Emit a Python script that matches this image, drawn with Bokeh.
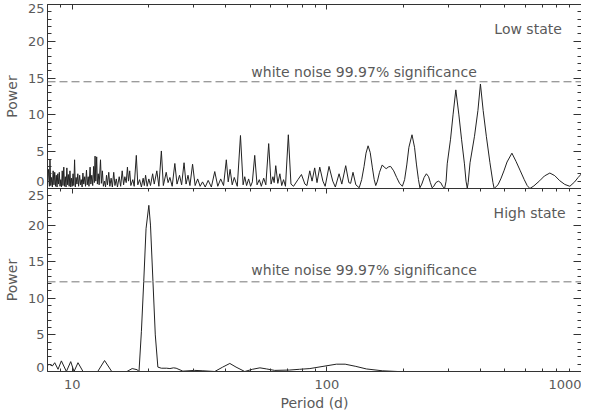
from bokeh.plotting import figure
from bokeh.models import (LogAxis, LinearAxis, FixedTicker, Range1d, Span, Label,
                          PrintfTickFormatter)
from bokeh.layouts import column
from bokeh.embed import file_html
from bokeh.resources import INLINE

# ---------------- data ----------------
low_period = [
    8.00, 8.08, 8.14, 8.18, 8.24, 8.30, 8.36, 8.42, 8.48, 8.54, 8.60, 8.66, 8.72, 8.78, 8.84,
    8.90, 8.96, 9.02, 9.08, 9.14, 9.20, 9.27, 9.33, 9.40, 9.46, 9.53, 9.60, 9.66, 9.73, 9.80,
    9.87, 9.94, 10.01, 10.08, 10.15, 10.22, 10.29, 10.36, 10.44, 10.52, 10.60, 10.70, 10.78,
    10.86, 10.94, 11.02, 11.10, 11.20, 11.28, 11.38, 11.46, 11.56, 11.64, 11.76, 11.84, 11.94,
    12.04, 12.14, 12.22, 12.30, 12.38, 12.48, 12.56, 12.66, 12.76, 12.92, 13.02, 13.14, 13.26,
    13.40, 13.52, 13.64, 13.76, 13.92, 14.06, 14.22, 14.38, 14.56, 14.72, 14.90, 15.06, 15.30,
    15.50, 15.72, 15.92, 16.10, 16.30, 16.48, 16.64, 16.82, 17.00, 17.30, 17.52, 17.86, 18.10,
    18.40, 18.70, 19.00, 19.20, 19.42, 19.70, 20.00, 20.30, 20.70, 21.00, 21.50, 21.90, 22.40,
    22.80, 23.40, 23.80, 24.20, 24.70, 25.30, 25.80, 26.40, 26.90, 27.50, 28.00, 28.50, 29.00,
    29.70, 30.40, 31.10, 31.80, 32.50, 33.30, 34.20, 35.20, 36.30, 37.30, 38.30, 39.30, 40.30,
    41.00, 41.70, 42.50, 43.30, 44.50, 45.80, 46.90, 47.60, 48.40, 49.30, 50.20, 51.00, 52.10,
    53.20, 54.30, 55.30, 56.50, 57.60, 59.10, 60.40, 61.40, 62.10, 63.00, 64.20, 65.40, 66.50,
    67.60, 68.80, 70.60, 72.30, 74.00, 77.00, 79.50, 82.00, 83.50, 85.70, 87.50, 89.60, 91.50,
    93.80, 96.50, 98.50, 102.0, 105.5, 108.0, 111.7, 114.5, 118.6, 122.0, 124.0, 126.7, 130.0,
    134.0, 137.0, 140.0, 142.5, 145.2, 148.0, 151.0, 153.5, 155.6, 158.0, 161.0, 165.0, 168.0,
    171.0, 175.0, 178.0, 183.0, 188.0, 193.0, 198.0, 202.0, 206.0, 210.0, 216.0, 221.0, 225.0,
    229.0, 232.0, 236.0, 241.0, 246.0, 251.0, 255.0, 259.0, 263.0, 268.0, 274.0, 280.0, 285.0,
    290.0, 294.0, 297.0, 306.0, 313.0, 321.0, 330.0, 338.0, 347.0, 352.0, 356.0, 359.0, 365.0,
    380.0, 392.0, 401.0, 411.0, 423.0, 437.0, 449.0, 454.0, 470.0, 482.0, 496.0, 510.0, 533.0,
    553.0, 575.0, 596.0, 612.0, 627.0, 650.0, 685.0, 715.0, 751.0, 785.0, 822.0, 860.0, 900.0,
    940.0, 970.0, 1000.0]
low_power = [
    0.5, 2.6, 0.3, 4.0, 0.4, 1.5, 0.2, 2.4, 0.5, 2.2, 0.3, 1.8, 0.2, 2.0, 0.6,
    2.2, 0.3, 1.2, 0.2, 2.4, 0.4, 2.9, 0.3, 1.6, 0.2, 2.8, 0.5, 1.9, 0.3, 2.4,
    0.2, 1.4, 0.3, 2.0, 0.4, 3.9, 0.2, 1.5, 0.6, 2.0, 0.3, 1.8, 0.5,
    1.2, 0.2, 2.1, 0.6, 1.6, 0.3, 2.5, 0.5, 1.6, 0.3, 2.9, 0.6, 1.8,
    0.4, 3.0, 0.8, 4.4, 1.0, 4.3, 0.6, 2.0, 0.5, 3.9, 0.7, 2.4, 0.3,
    1.0, 0.2, 1.8, 0.5, 2.2, 0.3, 1.4, 0.2, 2.2, 0.4, 1.3, 0.2, 1.6,
    0.3, 2.4, 0.5, 1.6, 0.8, 2.9, 1.0, 2.4, 0.4, 1.2, 0.3, 4.5, 0.5,
    1.2, 0.2, 1.4, 0.4, 1.8, 0.3, 1.3, 0.4, 2.0, 0.6, 2.4, 0.3, 5.1,
    0.4, 2.2, 0.8, 1.5, 0.3, 3.4, 0.6, 1.8, 0.5, 3.5, 0.6, 1.8, 0.4,
    3.3, 0.4, 1.3, 0.3, 0.9, 0.2, 1.1, 0.2, 2.3, 0.3, 1.3, 0.4, 3.9,
    0.9, 2.6, 0.5, 1.5, 0.3, 7.2, 0.5, 1.6, 0.4, 1.3, 0.3, 0.9, 4.5,
    0.5, 1.2, 0.3, 1.4, 0.5, 6.1, 0.6, 1.6, 0.8, 3.1, 0.7, 2.0, 0.4,
    1.2, 0.3, 7.3, 0.6, 0.3, 1.2, 1.9, 0.6, 0.4, 2.4, 1.0, 2.8, 0.8,
    2.9, 1.0, 0.3, 3.0, 1.0, 0.2, 2.0, 0.6, 3.1, 0.8, 0.7, 2.2, 0.5,
    0.1, 1.2, 3.0, 4.8, 5.8, 4.9, 2.8, 1.2, 0.4, 1.0, 2.2, 3.2, 2.9,
    2.7, 2.95, 3.0, 2.4, 1.5, 0.7, 0.3, 1.2, 3.2, 5.6, 7.3, 5.6, 3.2,
    1.2, 0.1, 0.6, 1.5, 2.0, 1.6, 0.8, 0.1, 0.3, 0.8, 1.0, 0.8, 0.3,
    0.0, 1.0, 3.35, 6.7, 10.0, 13.4, 10.0, 6.7, 3.35, 1.0, 0.05, 0.8, 3.5,
    7.1, 10.6, 14.2, 10.6, 7.1, 3.5, 0.8, 0.0, 0.5, 1.3, 2.4, 3.6, 4.8,
    3.7, 2.4, 1.2, 0.4, 0.0, 0.35, 1.05, 1.7, 2.1, 1.75, 1.05, 0.55, 0.3,
    0.9, 1.5, 2.0]

high_period = [8.00, 8.16, 8.36, 8.54, 8.80, 9.07, 9.49, 9.87, 10.17, 10.54, 11.03, 12.6, 13.4,
               14.3, 16.4, 17.2, 17.97, 18.3, 18.7, 19.1, 19.5, 20.0, 20.3, 20.76, 21.2, 21.7,
               22.4, 23.5, 24.2, 25.0, 25.6, 27.2, 30.3, 32.6, 36.3, 39.0, 41.6, 44.0, 47.6,
               51.0, 54.6, 58.0, 62.4, 71.4, 78.0, 85.8, 96.6, 109.0, 118.0, 130.0, 143.0,
               165.0, 190.0, 300.0, 500.0, 1000.0]
high_power = [0.9, 0.95, 0.75, 1.2, 0.3, 1.45, 0.0, 1.35, 0.0, 1.2, 0.0, 0.0, 1.5,
              0.0, 0.0, 0.4, 0.25, 0.0, 5.5, 12.3, 19.5, 22.7, 20.0, 12.3, 5.0, 0.6,
              0.45, 0.45, 0.4, 0.5, 0.45, 0.05, 0.15, 0.1, 0.0, 0.6, 1.1, 0.6, 0.0,
              0.3, 0.5, 0.35, 0.15, 0.2, 0.3, 0.4, 0.7, 1.0, 1.0, 0.7, 0.35,
              0.1, 0.0, 0.0, 0.0, 0.0]

sig_low = 14.5
sig_high = 12.25
sig_text = "white noise 99.97% significance"
x_major = [10, 100, 1000]
x_minor = [8, 9, 20, 30, 40, 50, 60, 70, 80, 90, 200, 300, 400, 500, 600, 700, 800, 900]
y_major = [0, 5, 10, 15, 20, 25]
y_minor = [1, 2, 3, 4, 6, 7, 8, 9, 11, 12, 13, 14, 16, 17, 18, 19, 21, 22, 23, 24]
# where the y tick labels sit: the end labels are nudged inward off the frame edges
low_label_pos = [0.95, 5, 10, 15, 20, 24.5]
low_label_text = {0.95: "0", 24.5: "25"}
high_label_pos = [0.55, 5, 10, 15, 20, 24.0]
high_label_text = {0.55: "0", 24.0: "25"}

FONT = "DejaVu Sans"
TXT = "#5a5a5a"
INK = "#333333"


def style_axis(ax, major_in, minor_in, labels=True):
    ax.major_tick_in = major_in
    ax.major_tick_out = 0
    ax.minor_tick_in = minor_in
    ax.minor_tick_out = 0
    ax.axis_line_color = INK
    ax.major_tick_line_color = INK
    ax.minor_tick_line_color = INK
    ax.major_label_text_font = FONT
    ax.major_label_text_color = TXT
    if labels:
        ax.major_label_text_font_size = "13px"
    else:
        ax.major_label_text_font_size = "1px"
        ax.major_label_text_alpha = 0
        ax.major_label_standoff = 0


def panel(period, power, sig, sig_y, state, state_x, state_y, fh, top, bottom,
          is_bottom, label_pos, label_text):
    p = figure(x_axis_type="log", x_range=Range1d(8, 1000), y_range=Range1d(0, 25),
               frame_width=534, frame_height=fh, output_backend="svg", toolbar_location=None,
               min_border_left=47, min_border_right=0, min_border_top=top,
               min_border_bottom=bottom, x_axis_location=None, y_axis_location=None)
    p.grid.grid_line_color = None
    p.outline_line_color = None
    p.background_fill_color = "white"
    p.border_fill_color = "white"

    # tick marks on the left frame edge
    yt = LinearAxis(ticker=FixedTicker(ticks=y_major, minor_ticks=y_minor))
    style_axis(yt, 8, 4, labels=False)
    p.add_layout(yt, "left")

    # labels only (no marks), just outside the tick axis
    yl = LinearAxis(ticker=FixedTicker(ticks=label_pos, minor_ticks=[]))
    style_axis(yl, 0, 0)
    yl.axis_line_color = None
    yl.major_tick_line_color = None
    yl.minor_tick_line_color = None
    yl.major_label_standoff = 3
    yl.major_label_overrides = label_text
    yl.axis_label = "Power"
    yl.axis_label_text_font = FONT
    yl.axis_label_text_font_style = "normal"
    yl.axis_label_text_font_size = "14px"
    yl.axis_label_text_color = TXT
    yl.axis_label_standoff = 5
    p.add_layout(yl, "left")

    yr = LinearAxis(ticker=FixedTicker(ticks=y_major, minor_ticks=y_minor))
    style_axis(yr, 8, 4, labels=False)
    p.add_layout(yr, "right")

    xt = LogAxis(ticker=FixedTicker(ticks=x_major, minor_ticks=x_minor))
    style_axis(xt, 5, 3, labels=False)
    p.add_layout(xt, "above")

    if is_bottom:
        xb = LogAxis(ticker=FixedTicker(ticks=x_major, minor_ticks=x_minor),
                     formatter=PrintfTickFormatter(format="%d"))
        style_axis(xb, 5, 3)
        xb.major_label_standoff = 8
        xb.axis_label = "Period (d)"
        xb.axis_label_text_font = FONT
        xb.axis_label_text_font_style = "normal"
        xb.axis_label_text_font_size = "14px"
        xb.axis_label_text_color = TXT
        xb.axis_label_standoff = 3
        p.add_layout(xb, "below")

    p.line(period, power, line_color="#222222", line_width=1)
    p.add_layout(Span(location=sig, dimension="width", line_color="#777777",
                      line_dash="8 4", line_width=1))
    p.add_layout(Label(x=140, y=sig_y, text=sig_text, text_align="center",
                       text_baseline="middle", text_font=FONT, text_font_size="14px",
                       text_color=TXT))
    p.add_layout(Label(x=state_x, y=state_y, text=state, text_align="right",
                       text_baseline="middle", text_font=FONT, text_font_size="14px",
                       text_color=TXT))
    return p


p1 = panel(low_period, low_power, sig_low, 15.8, "Low state", 837, 21.7,
           184, 4, 0, False, low_label_pos, low_label_text)
p2 = panel(high_period, high_power, sig_high, 13.8, "High state", 867, 21.7,
           183, 0, 40, True, high_label_pos, high_label_text)

layout = column(p1, p2, spacing=0)
open("out.html", "w").write(file_html(layout, INLINE))
